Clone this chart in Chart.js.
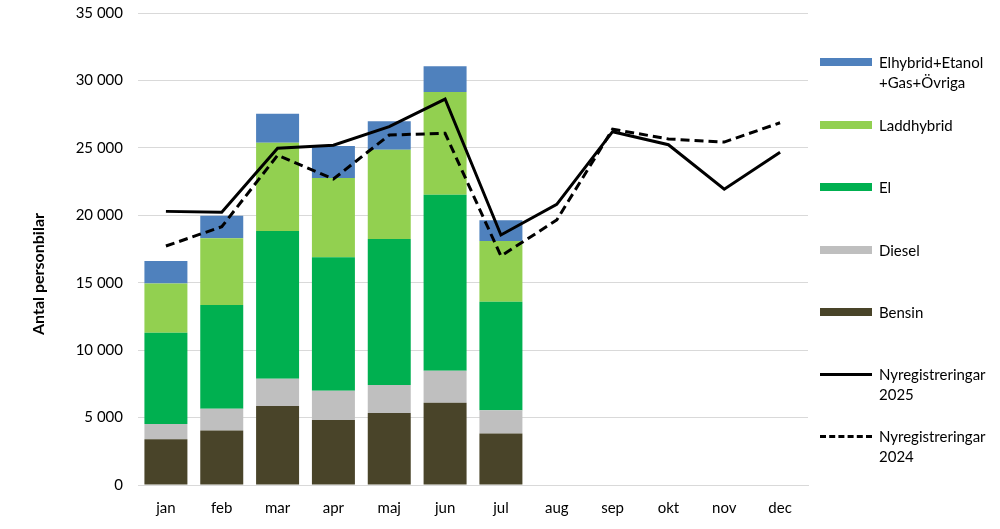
<!DOCTYPE html>
<html>
<head>
<meta charset="utf-8">
<script src="https://cdn.jsdelivr.net/npm/chart.js@4.4.0/dist/chart.umd.min.js"></script>
<style>
  html, body { margin: 0; padding: 0; background: #fff; }
  #wrap { position: relative; width: 1000px; height: 529px; }
  #legend { position: absolute; left: 820px; top: 0; font-family: Lato, sans-serif; font-size: 15px; color: #000; }
  .item { position: absolute; left: 0; width: 180px; }
  .sw { position: absolute; left: 0; width: 52px; }
  .txt { position: absolute; left: 59px; line-height: 20px; white-space: nowrap; }
</style>
</head>
<body>
<div id="wrap">
  <canvas id="grafico" width="1000" height="529"></canvas>
  <div id="legend"></div>
</div>
<script>
const manader = ["jan", "feb", "mar", "apr", "maj", "jun", "jul", "aug", "sep", "okt", "nov", "dec"];
const bensin = [3400, 4050, 5860, 4820, 5340, 6100, 3810];
const diesel = [1120, 1610, 2020, 2170, 2080, 2380, 1730];
const el = [6770, 7690, 10950, 9890, 10820, 13050, 8050];
const laddhybrid = [3660, 4940, 6550, 5880, 6620, 7610, 4500];
const ovriga = [1660, 1680, 2150, 2380, 2110, 1910, 1540];
const nyreg2025 = [20290, 20220, 24970, 25190, 26570, 28620, 18540, 20810, 26200, 25230, 21930, 24670];
const nyreg2024 = [17720, 19150, 24450, 22690, 25950, 26080, 16980, 19650, 26380, 25660, 25430, 26860];
const yTicks = [0, 5000, 10000, 15000, 20000, 25000, 30000, 35000];

const fuente = "Lato, sans-serif";

function barra(label, data, color) {
  return { type: 'bar', label: label, data: data, backgroundColor: color, stack: 'bilar', order: 1,
           barPercentage: 0.77, categoryPercentage: 1 };
}

const datasets = [
  barra('Bensin', bensin, '#494429'),
  barra('Diesel', diesel, '#bfbfbf'),
  barra('El', el, '#00b050'),
  barra('Laddhybrid', laddhybrid, '#92d050'),
  barra('Elhybrid+Etanol\n+Gas+Övriga', ovriga, '#4f81bd'),
  { type: 'line', label: 'Nyregistreringar\n2025', data: nyreg2025, borderColor: '#000', borderWidth: 3,
    pointRadius: 0, stack: 'l25', order: 0, tension: 0 },
  { type: 'line', label: 'Nyregistreringar\n2024', data: nyreg2024, borderColor: '#000', borderWidth: 3,
    borderDash: [9, 5], pointRadius: 0, stack: 'l24', order: 0, tension: 0 }
];

// titulo del eje y, dibujado a mano para poder ubicarlo
const tituloY = {
  id: 'tituloY',
  afterDraw(chart) {
    const ctx = chart.ctx;
    ctx.save();
    ctx.translate(39, 274);
    ctx.rotate(-Math.PI / 2);
    ctx.font = "bold 16px " + fuente;
    ctx.fillStyle = '#000';
    ctx.textAlign = 'center';
    ctx.textBaseline = 'middle';
    ctx.fillText('Antal personbilar', 0, 0);
    ctx.restore();
  }
};

const chart = new Chart(document.getElementById('grafico').getContext('2d'), {
  type: 'bar',
  data: { labels: manader, datasets: datasets },
  options: {
    responsive: false,
    animation: false,
    layout: { padding: { left: 30, right: 192, top: 13, bottom: 0 } },
    plugins: { legend: { display: false }, tooltip: { enabled: false } },
    scales: {
      x: {
        stacked: true,
        grid: { display: false },
        border: { color: '#d9d9d9', width: 1 },
        ticks: { color: '#000', font: { family: fuente, size: 15 }, padding: 6 },
        afterFit(s) { s.height = 44; }
      },
      y: {
        stacked: true,
        min: 0,
        max: 35000,
        afterBuildTicks(s) { s.ticks = yTicks.map(v => ({ value: v })); },
        grid: { color: '#d9d9d9', drawTicks: false },
        border: { display: false },
        ticks: {
          color: '#000', font: { family: fuente, size: 15 }, padding: 15,
          callback: v => v === 0 ? '0' : String(v).replace(/\B(?=(\d{3})+(?!\d))/g, ' ')
        },
        afterFit(s) { s.width = 108; s.paddingTop = 0; s.paddingBottom = 0; }
      }
    }
  },
  plugins: [tituloY]
});

// leyenda en HTML, de arriba hacia abajo
const legendDiv = document.getElementById('legend');
const orden = [4, 3, 2, 1, 0, 5, 6];
const centros = [62, 125, 187, 250, 312, 374, 436];
orden.forEach((idx, k) => {
  const ds = chart.data.datasets[idx];
  const item = document.createElement('div');
  item.className = 'item';
  item.style.top = centros[k] + 'px';
  const sw = document.createElement('div');
  sw.className = 'sw';
  if (ds.type === 'bar') {
    sw.style.height = '8px';
    sw.style.top = '-4px';
    sw.style.background = ds.backgroundColor;
  } else {
    sw.style.height = '0';
    sw.style.top = '-1px';
    sw.style.borderTop = '3px ' + (ds.borderDash ? 'dashed' : 'solid') + ' #000';
  }
  const txt = document.createElement('div');
  txt.className = 'txt';
  txt.style.top = '-10px';
  txt.innerHTML = ds.label.split('\n').join('<br>');
  item.appendChild(sw);
  item.appendChild(txt);
  legendDiv.appendChild(item);
});
</script>
</body>
</html>
